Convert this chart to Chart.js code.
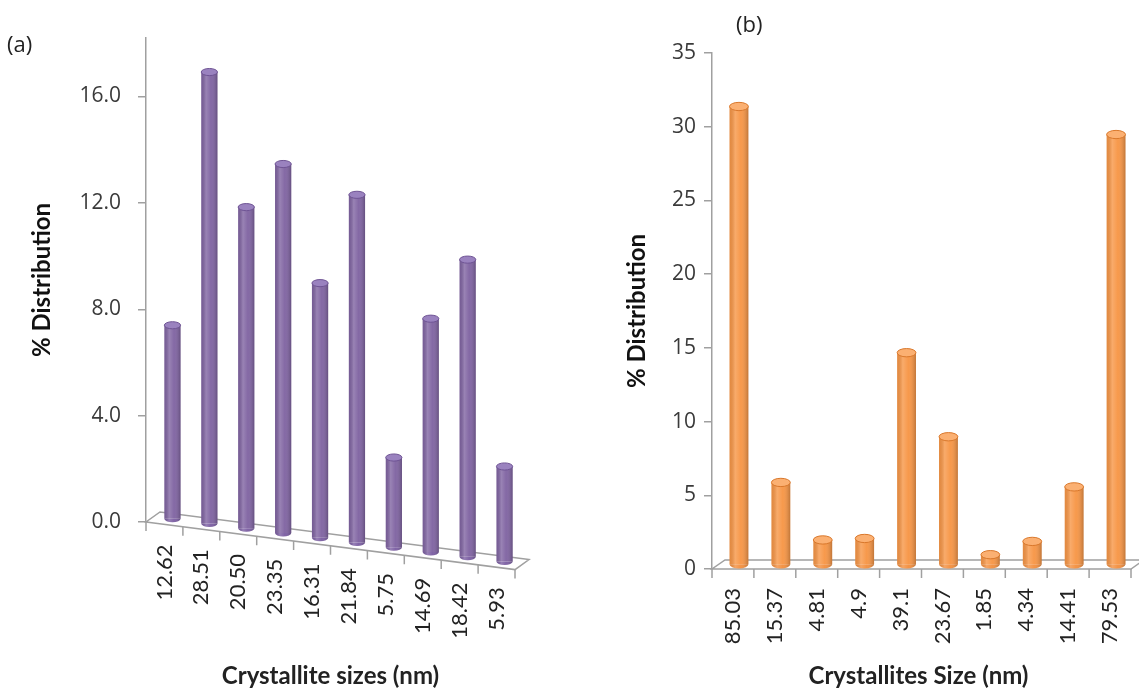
<!DOCTYPE html>
<html>
<head>
<meta charset="utf-8">
<script src="https://cdn.jsdelivr.net/npm/chart.js@4"></script>
<style>
  body { margin: 0; background: #fff; width: 1139px; height: 690px; overflow: hidden; position: relative; }
  .panel { position: absolute; top: 0; height: 690px; }
  .tag { position: absolute; font: 22px 'Open Sans', sans-serif; color: #222; }
</style>
</head>
<body>
<div class="panel" style="left:0;width:570px"><canvas id="chartA" width="570" height="690"></canvas></div>
<div class="panel" style="left:580px;width:559px"><canvas id="chartB" width="559" height="690"></canvas></div>
<div class="tag" style="left:7px;top:28px">(a)</div>
<div class="tag" style="left:736px;top:8px">(b)</div>
<script>
// --- data (a) ---
const sizesA = ['12.62', '28.51', '20.50', '23.35', '16.31', '21.84', '5.75', '14.69', '18.42', '5.93'];
const distA = [7.3, 17.0, 12.1, 13.9, 9.6, 13.1, 3.4, 8.8, 11.2, 3.6];
const ticksA = [0, 4, 8, 12, 16];

// --- data (b) ---
const sizesB = ['85.03', '15.37', '4.81', '4.9', '39.1', '23.67', '1.85', '4.34', '14.41', '79.53'];
const distB = [31.1, 5.6, 1.7, 1.8, 14.4, 8.7, 0.7, 1.6, 5.3, 29.2];
const ticksB = [0, 5, 10, 15, 20, 25, 30, 35];

const AXIS_GREY = '#a0a0a0';

// floor, category ticks, category labels and x title (sloped for the 3D look)
const floor3d = {
    id: 'floor3d',
    beforeDatasetsDraw(chart, args, o) {
        const { ctx, chartArea: a, scales: { x } } = chart;
        const yAt = px => a.bottom + o.slope * (px - a.left);
        ctx.save();
        ctx.strokeStyle = AXIS_GREY;
        ctx.lineWidth = 1.5;
        ctx.beginPath();
        ctx.moveTo(a.left, yAt(a.left));
        ctx.lineTo(a.right, yAt(a.right));
        ctx.lineTo(a.right + o.depthX, yAt(a.right) - o.depthY);
        ctx.lineTo(a.left + o.depthX, a.bottom - o.depthY);
        ctx.closePath();
        ctx.stroke();

        // tick marks on the category boundaries
        const n = x.ticks.length;
        ctx.beginPath();
        for (let i = 0; i <= n; i++) {
            const px = x.getPixelForValue(i - 0.5);
            ctx.moveTo(px, yAt(px));
            ctx.lineTo(px, yAt(px) + 9);
        }
        ctx.stroke();

        // rotated category labels
        ctx.fillStyle = '#222';
        ctx.font = "22px Lato, sans-serif";
        ctx.textAlign = 'right';
        ctx.textBaseline = 'middle';
        o.labels.forEach((lab, i) => {
            const px = x.getPixelForValue(i);
            ctx.save();
            ctx.translate(px, yAt(px) + o.labelGap);
            ctx.rotate(-Math.PI / 2);
            ctx.fillText(lab, 0, 0);
            ctx.restore();
        });

        // axis title
        ctx.font = "bold 24px Lato, sans-serif";
        ctx.textAlign = 'center';
        ctx.fillText(o.title, (a.left + a.right) / 2 + o.titleShift, o.titleY);
        ctx.restore();
    }
};

// cylinder-style bars, each shifted onto the sloped floor
const cylinderBars = {
    id: 'cylinderBars',
    beforeDatasetDraw(chart, args, o) {
        const { ctx, chartArea } = chart;
        args.meta.data.forEach(bar => {
            const p = bar.getProps(['x', 'y', 'base', 'width'], true);
            const half = p.width / 2, ry = p.width * 0.22;
            const l = p.x - half, r = p.x + half;
            ctx.save();
            ctx.translate(o.dx, o.slope * (p.x - chartArea.left) + o.dy);
            bar.draw(ctx, chartArea);
            // rounded bottom
            ctx.fillStyle = o.color;
            ctx.beginPath();
            ctx.ellipse(p.x, p.base, half, ry, 0, 0, Math.PI);
            ctx.fill();
            // shading across the cylinder
            const g = ctx.createLinearGradient(l, 0, r, 0);
            g.addColorStop(0, 'rgba(0,0,0,0.08)');
            g.addColorStop(0.3, 'rgba(255,255,255,0.20)');
            g.addColorStop(0.6, 'rgba(255,255,255,0.03)');
            g.addColorStop(1, 'rgba(0,0,0,0.22)');
            ctx.fillStyle = g;
            ctx.beginPath();
            ctx.moveTo(l, p.y);
            ctx.lineTo(l, p.base);
            ctx.ellipse(p.x, p.base, half, ry, 0, Math.PI, 0, true);
            ctx.lineTo(r, p.y);
            ctx.closePath();
            ctx.fill();
            // top cap
            ctx.fillStyle = o.capColor;
            ctx.strokeStyle = o.capEdge;
            ctx.lineWidth = 1;
            ctx.beginPath();
            ctx.ellipse(p.x, p.y, half, ry, 0, 0, Math.PI * 2);
            ctx.fill();
            ctx.stroke();
            ctx.restore();
        });
        return false;
    }
};

const makeChart = (id, labels, values, ticks, cfg) => new Chart(document.getElementById(id), {
    type: 'bar',
    data: {
        labels: labels,
        datasets: [{
            data: values,
            backgroundColor: cfg.color,
            borderWidth: 0,
            categoryPercentage: 1,
            barPercentage: cfg.barPct
        }]
    },
    options: {
        responsive: false,
        animation: false,
        events: [],
        layout: { padding: cfg.padding },
        plugins: {
            legend: { display: false },
            tooltip: { enabled: false },
            floor3d: cfg.floor,
            cylinderBars: cfg.bars
        },
        scales: {
            x: { display: false },
            y: {
                min: 0,
                max: cfg.max,
                afterBuildTicks: s => { s.ticks = ticks.map(v => ({ value: v })); },
                afterFit: s => { s.width = cfg.axisWidth; },
                border: { display: true, color: AXIS_GREY, width: 1.5 },
                grid: { drawOnChartArea: false, drawTicks: true, tickLength: 8, color: AXIS_GREY, lineWidth: 1.5 },
                ticks: {
                    padding: cfg.tickPad,
                    color: '#3a3a3a',
                    font: { family: 'Open Sans', size: 21 },
                    callback: cfg.fmt
                },
                title: {
                    display: true,
                    text: '% Distribution',
                    color: '#111',
                    padding: 0,
                    font: { family: 'Lato', size: 24, weight: 'bold' }
                }
            }
        }
    },
    plugins: [floor3d, cylinderBars]
});

makeChart('chartA', sizesA, distA, ticksA, {
    color: '#8064a2',
    barPct: 0.44,
    max: 18.2,
    padding: { left: 28, top: 38, right: 55, bottom: 168 },
    axisWidth: 118,
    tickPad: 17,
    fmt: v => v.toFixed(1),
    floor: { slope: 0.129, depthX: 14, depthY: 10, labelGap: 20, labels: sizesA,
             title: 'Crystallite sizes (nm)', titleShift: 0, titleY: 676 },
    bars: { slope: 0.129, dx: 8, dy: -5, color: '#7c5fa3', capColor: '#9a82bf', capEdge: '#6f5494' }
});

makeChart('chartB', sizesB, distB, ticksB, {
    color: '#f79646',
    barPct: 0.45,
    max: 35,
    padding: { left: 43, top: 53, right: 8, bottom: 121 },
    axisWidth: 89,
    tickPad: 8,
    fmt: v => v,
    floor: { slope: 0, depthX: 13, depthY: 9, labelGap: 19, labels: sizesB,
             title: 'Crystallites Size (nm)', titleShift: -3, titleY: 676 },
    bars: { slope: 0, dx: 6, dy: -4, color: '#f39040', capColor: '#fbb072', capEdge: '#d9782c' }
});
</script>
</body>
</html>
